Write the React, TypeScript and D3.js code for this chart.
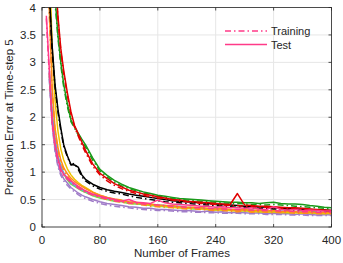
import React from "react";
import * as d3 from "d3";

const frames = [6, 10, 14, 18, 22, 26, 30, 35, 40, 45, 50, 55, 60, 70, 80, 90, 100, 110, 120, 130, 140, 150, 160, 170, 180, 190, 200, 210, 220, 230, 240, 250, 260, 270, 280, 290, 300, 310, 320, 330, 340, 350, 360, 370, 380, 390, 400];

const redTest = [10, 8, 6.2, 4.7, 3.85, 3.25, 2.85, 2.45, 2.1, 1.85, 1.7, 1.55, 1.4, 1.15, 0.98, 0.88, 0.79, 0.73, 0.67, 0.64, 0.6, 0.58, 0.55, 0.53, 0.5, 0.49, 0.47, 0.46, 0.45, 0.44, 0.43, 0.42, 0.41, 0.61, 0.4, 0.39, 0.38, 0.38, 0.37, 0.36, 0.35, 0.35, 0.34, 0.33, 0.32, 0.31, 0.3];
const redTrain = [10, 7.8, 6.0, 4.6, 3.8, 3.2, 2.8, 2.4, 2.05, 1.82, 1.66, 1.5, 1.36, 1.11, 0.95, 0.84, 0.76, 0.7, 0.65, 0.61, 0.58, 0.55, 0.53, 0.51, 0.49, 0.47, 0.46, 0.45, 0.43, 0.42, 0.41, 0.4, 0.39, 0.39, 0.38, 0.37, 0.36, 0.36, 0.35, 0.34, 0.34, 0.33, 0.32, 0.32, 0.31, 0.3, 0.29];
const greenTest = [9.5, 7.2, 5.5, 4.2, 3.5, 3.0, 2.6, 2.25, 1.95, 1.83, 1.71, 1.6, 1.5, 1.26, 1.05, 0.94, 0.85, 0.78, 0.72, 0.68, 0.64, 0.61, 0.58, 0.56, 0.54, 0.52, 0.51, 0.5, 0.49, 0.48, 0.47, 0.46, 0.45, 0.45, 0.44, 0.44, 0.43, 0.44, 0.45, 0.43, 0.42, 0.42, 0.41, 0.39, 0.38, 0.36, 0.35];
const greenTrain = [9.3, 7.0, 5.4, 4.1, 3.45, 2.95, 2.55, 2.2, 1.92, 1.8, 1.68, 1.57, 1.46, 1.22, 1.02, 0.91, 0.82, 0.75, 0.7, 0.66, 0.62, 0.59, 0.56, 0.54, 0.52, 0.5, 0.49, 0.48, 0.47, 0.46, 0.45, 0.44, 0.43, 0.43, 0.42, 0.41, 0.41, 0.4, 0.41, 0.4, 0.39, 0.38, 0.37, 0.36, 0.35, 0.34, 0.33];
const blackTest = [6.5, 4.3, 3.3, 2.6, 2.15, 1.8, 1.5, 1.3, 1.14, 1.13, 1.09, 0.95, 0.87, 0.78, 0.72, 0.68, 0.65, 0.63, 0.6, 0.58, 0.56, 0.54, 0.52, 0.5, 0.48, 0.47, 0.46, 0.45, 0.44, 0.43, 0.42, 0.41, 0.4, 0.39, 0.38, 0.37, 0.37, 0.36, 0.35, 0.34, 0.34, 0.33, 0.32, 0.32, 0.31, 0.31, 0.3];
const blackTrain = [6.3, 4.2, 3.2, 2.55, 2.1, 1.76, 1.47, 1.28, 1.13, 1.16, 1.05, 0.92, 0.84, 0.75, 0.69, 0.65, 0.62, 0.6, 0.57, 0.54, 0.52, 0.5, 0.48, 0.46, 0.45, 0.44, 0.43, 0.42, 0.41, 0.4, 0.39, 0.38, 0.37, 0.36, 0.36, 0.35, 0.34, 0.34, 0.33, 0.32, 0.32, 0.31, 0.31, 0.3, 0.3, 0.29, 0.29];
const orangeTest = [6, 4.0, 2.55, 1.8, 1.45, 1.22, 1.08, 0.97, 0.89, 0.83, 0.78, 0.74, 0.7, 0.63, 0.58, 0.54, 0.51, 0.49, 0.46, 0.45, 0.43, 0.42, 0.4, 0.39, 0.39, 0.37, 0.36, 0.36, 0.35, 0.34, 0.33, 0.34, 0.32, 0.31, 0.32, 0.3, 0.31, 0.29, 0.3, 0.28, 0.29, 0.28, 0.27, 0.28, 0.26, 0.27, 0.26];
const orangeTrain = [5.8, 3.9, 2.5, 1.75, 1.4, 1.18, 1.04, 0.93, 0.85, 0.79, 0.74, 0.7, 0.66, 0.59, 0.54, 0.5, 0.47, 0.45, 0.43, 0.42, 0.4, 0.38, 0.37, 0.36, 0.35, 0.34, 0.33, 0.33, 0.32, 0.31, 0.3, 0.3, 0.29, 0.28, 0.29, 0.27, 0.28, 0.27, 0.26, 0.27, 0.26, 0.25, 0.25, 0.25, 0.24, 0.25, 0.24];
const yellowTest = [8, 5.0, 3.3, 2.3, 1.75, 1.42, 1.22, 1.06, 0.95, 0.87, 0.81, 0.76, 0.72, 0.64, 0.58, 0.54, 0.5, 0.48, 0.45, 0.44, 0.42, 0.4, 0.39, 0.38, 0.36, 0.35, 0.34, 0.35, 0.33, 0.32, 0.31, 0.31, 0.3, 0.29, 0.3, 0.28, 0.28, 0.27, 0.28, 0.26, 0.27, 0.26, 0.25, 0.26, 0.25, 0.24, 0.25];
const blueTest = [null, 2.85, 2.1, 1.6, 1.3, 1.1, 0.98, 0.88, 0.81, 0.76, 0.72, 0.68, 0.65, 0.59, 0.56, 0.52, 0.5, 0.48, 0.45, 0.44, 0.43, 0.41, 0.4, 0.39, 0.37, 0.38, 0.36, 0.35, 0.35, 0.33, 0.34, 0.32, 0.31, 0.32, 0.3, 0.31, 0.29, 0.3, 0.28, 0.29, 0.28, 0.27, 0.28, 0.26, 0.27, 0.26, 0.26];
const lightGreenTest = [null, 2.8, 2.05, 1.58, 1.28, 1.1, 0.97, 0.86, 0.78, 0.74, 0.7, 0.66, 0.63, 0.57, 0.53, 0.5, 0.47, 0.46, 0.43, 0.42, 0.41, 0.39, 0.38, 0.37, 0.36, 0.35, 0.34, 0.33, 0.34, 0.32, 0.31, 0.32, 0.3, 0.3, 0.29, 0.3, 0.28, 0.28, 0.27, 0.28, 0.26, 0.27, 0.26, 0.26, 0.25, 0.26, 0.25];
const purpleTest = [null, 2.75, 1.9, 1.42, 1.14, 0.98, 0.88, 0.8, 0.72, 0.67, 0.62, 0.58, 0.55, 0.5, 0.46, 0.43, 0.41, 0.39, 0.37, 0.36, 0.34, 0.34, 0.32, 0.32, 0.31, 0.3, 0.3, 0.29, 0.28, 0.29, 0.27, 0.28, 0.26, 0.27, 0.26, 0.25, 0.26, 0.24, 0.25, 0.24, 0.24, 0.23, 0.24, 0.23, 0.22, 0.23, 0.22];
const purpleTrain = [null, 2.7, 1.85, 1.38, 1.1, 0.94, 0.84, 0.76, 0.69, 0.64, 0.59, 0.55, 0.52, 0.47, 0.43, 0.4, 0.38, 0.36, 0.35, 0.33, 0.32, 0.31, 0.3, 0.3, 0.29, 0.28, 0.28, 0.27, 0.27, 0.26, 0.26, 0.25, 0.25, 0.25, 0.24, 0.24, 0.24, 0.23, 0.23, 0.23, 0.22, 0.22, 0.22, 0.21, 0.21, 0.21, 0.21];
const pinkTest = [3.85, 2.9, 1.95, 1.5, 1.25, 1.05, 0.96, 0.9, 0.84, 0.79, 0.74, 0.7, 0.66, 0.6, 0.56, 0.53, 0.5, 0.47, 0.5, 0.45, 0.44, 0.43, 0.49, 0.44, 0.42, 0.41, 0.4, 0.39, 0.38, 0.38, 0.36, 0.37, 0.35, 0.35, 0.34, 0.35, 0.33, 0.32, 0.37, 0.32, 0.31, 0.32, 0.3, 0.31, 0.3, 0.29, 0.29];
const pinkTrain = [3.8, 2.8, 1.9, 1.45, 1.2, 1.02, 0.93, 0.87, 0.81, 0.76, 0.71, 0.67, 0.63, 0.58, 0.54, 0.51, 0.48, 0.46, 0.44, 0.43, 0.42, 0.41, 0.4, 0.39, 0.38, 0.37, 0.36, 0.35, 0.35, 0.34, 0.33, 0.33, 0.32, 0.32, 0.31, 0.31, 0.3, 0.3, 0.3, 0.29, 0.29, 0.28, 0.28, 0.28, 0.27, 0.27, 0.27];

const xTicks = [0, 80, 160, 240, 320, 400];
const yTicks = [0, 0.5, 1, 1.5, 2, 2.5, 3, 3.5, 4];
const legendLabels = ["Training", "Test"];

const series = [
  { name: "purpleTrain", values: purpleTrain, color: "#a07cc8", dashed: true },
  { name: "purpleTest", values: purpleTest, color: "#a07cc8", dashed: false },
  { name: "lightGreenTest", values: lightGreenTest, color: "#6fe04a", dashed: false },
  { name: "blueTest", values: blueTest, color: "#5aa0ee", dashed: false },
  { name: "yellowTest", values: yellowTest, color: "#ecc400", dashed: false },
  { name: "orangeTrain", values: orangeTrain, color: "#ff8a1c", dashed: true },
  { name: "orangeTest", values: orangeTest, color: "#ff8a1c", dashed: false },
  { name: "blackTrain", values: blackTrain, color: "#000000", dashed: true },
  { name: "blackTest", values: blackTest, color: "#000000", dashed: false },
  { name: "greenTrain", values: greenTrain, color: "#1a9a1a", dashed: true },
  { name: "greenTest", values: greenTest, color: "#1a9a1a", dashed: false },
  { name: "redTrain", values: redTrain, color: "#e00000", dashed: true },
  { name: "redTest", values: redTest, color: "#e00000", dashed: false },
  { name: "pinkTrain", values: pinkTrain, color: "#ff3a88", dashed: true },
  { name: "pinkTest", values: pinkTest, color: "#ff3a88", dashed: false },
];

const W = 343;
const H = 263;
const M = { left: 42, right: 331.5, top: 7.5, bottom: 227 };
const FONT = "'Liberation Sans', Arial, Helvetica, sans-serif";
const DASHDOT = "6,3,1.5,3";

export default function App() {
  const x = d3.scaleLinear().domain([0, 400]).range([M.left, M.right]);
  const y = d3.scaleLinear().domain([0, 4]).range([M.bottom, M.top]);
  const line = d3
    .line<number | null>()
    .x((_, i) => x(frames[i]))
    .y((d) => y(d as number))
    .defined((d) => d != null);

  const axisColor = "#262626";
  const gridColor = "#e6e6e6";
  const tickLen = 3;

  return (
    <svg
      width={W}
      height={H}
      style={{ position: "absolute", left: 0, top: 0, background: "#fff" }}
      fontFamily={FONT}
    >
      <defs>
        <clipPath id="plotClip">
          <rect x={M.left} y={M.top} width={M.right - M.left} height={M.bottom - M.top} />
        </clipPath>
      </defs>
      <rect x={M.left} y={M.top} width={M.right - M.left} height={M.bottom - M.top} fill="#fff" />
      {xTicks.map((t) => (
        <line key={"gx" + t} x1={x(t)} x2={x(t)} y1={M.top} y2={M.bottom} stroke={gridColor} strokeWidth={1} />
      ))}
      {yTicks.map((t) => (
        <line key={"gy" + t} x1={M.left} x2={M.right} y1={y(t)} y2={y(t)} stroke={gridColor} strokeWidth={1} />
      ))}
      <g clipPath="url(#plotClip)">
        {series.map((s) => (
          <path
            key={s.name}
            d={line(s.values) || ""}
            fill="none"
            stroke={s.color}
            strokeWidth={1.5}
            strokeDasharray={s.dashed ? DASHDOT : undefined}
            strokeLinejoin="round"
          />
        ))}
      </g>
      <rect
        x={M.left}
        y={M.top}
        width={M.right - M.left}
        height={M.bottom - M.top}
        fill="none"
        stroke={axisColor}
        strokeWidth={0.8}
      />
      {xTicks.map((t) => (
        <g key={"tx" + t}>
          <line x1={x(t)} x2={x(t)} y1={M.bottom} y2={M.bottom - tickLen} stroke={axisColor} strokeWidth={0.8} />
          <line x1={x(t)} x2={x(t)} y1={M.top} y2={M.top + tickLen} stroke={axisColor} strokeWidth={0.8} />
          <text x={x(t)} y={M.bottom + 17} textAnchor="middle" fontSize={11.5} fill={axisColor}>
            {t}
          </text>
        </g>
      ))}
      {yTicks.map((t) => (
        <g key={"ty" + t}>
          <line x1={M.left} x2={M.left + tickLen} y1={y(t)} y2={y(t)} stroke={axisColor} strokeWidth={0.8} />
          <line x1={M.right} x2={M.right - tickLen} y1={y(t)} y2={y(t)} stroke={axisColor} strokeWidth={0.8} />
          <text x={M.left - 6} y={y(t) + 4} textAnchor="end" fontSize={11.5} fill={axisColor}>
            {t}
          </text>
        </g>
      ))}
      <text x={182} y={257} textAnchor="middle" fontSize={11.5} fill={axisColor}>
        Number of Frames
      </text>
      <text
        transform={`translate(13,${(M.top + M.bottom) / 2}) rotate(-90)`}
        textAnchor="middle"
        fontSize={11.5}
        fill={axisColor}
      >
        Prediction Error at Time-step 5
      </text>
      <line x1={225} x2={267} y1={31} y2={31} stroke="#ff3a88" strokeWidth={1.5} strokeDasharray={DASHDOT} />
      <text x={271} y={35} fontSize={11} fill={axisColor}>
        {legendLabels[0]}
      </text>
      <line x1={225} x2={267} y1={44.5} y2={44.5} stroke="#ff3a88" strokeWidth={1.5} />
      <text x={271} y={48.5} fontSize={11} fill={axisColor}>
        {legendLabels[1]}
      </text>
    </svg>
  );
}
